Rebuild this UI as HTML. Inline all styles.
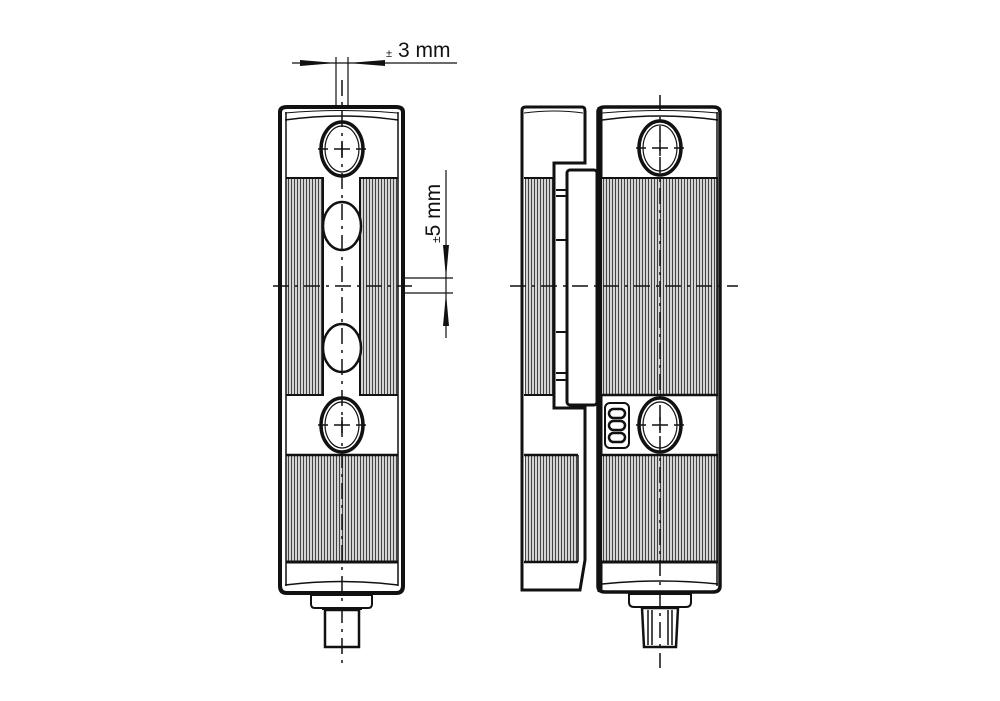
<!DOCTYPE html>
<html><head><style>html,body{margin:0;padding:0;background:#fff}svg{display:block}</style></head>
<body>
<svg width="1000" height="701" viewBox="0 0 1000 701" xmlns="http://www.w3.org/2000/svg" font-family="Liberation Sans, sans-serif">
<defs>
<pattern id="h" width="3" height="10" patternUnits="userSpaceOnUse">
<rect width="3" height="10" fill="#d4d4d4"/><rect width="1" height="10" fill="#444"/>
</pattern>
</defs>
<g stroke="#111" fill="none" stroke-width="2">
<rect x="287" y="178" width="36" height="217" fill="url(#h)" stroke="none"/>
<rect x="360" y="178" width="38" height="217" fill="url(#h)" stroke="none"/>
<rect x="287" y="455" width="111" height="107" fill="url(#h)" stroke="none"/>
<path d="M280 112 Q280 107 287 107 L396 107 Q403 107 403 112 L403 586 Q403 593 396 593 L287 593 Q280 593 280 586 Z" stroke-width="4"/>
<path d="M285 120 Q342 112 398 120" stroke-width="1.5"/>
<path d="M285 113 Q342 108 398 113" stroke-width="1"/>
<line x1="286" y1="112" x2="286" y2="586" stroke-width="1.5"/>
<line x1="398" y1="112" x2="398" y2="586" stroke-width="1.5"/>
<path d="M286 178 H323 V395 H286 M398 178 H360 V395 H398" stroke-width="2"/>
<line x1="286" y1="455" x2="398" y2="455" stroke-width="2.5"/>
<line x1="286" y1="562" x2="398" y2="562" stroke-width="3"/>
<path d="M285 585 Q342 578 398 585" stroke-width="1.5"/>
<ellipse cx="342" cy="149" rx="21" ry="27" stroke-width="3.5" fill="#fff"/><ellipse cx="342" cy="149" rx="17" ry="23" stroke-width="1.2"/>
<ellipse cx="342" cy="226" rx="19" ry="24" stroke-width="2.5" fill="#fff"/>
<ellipse cx="342" cy="348" rx="19" ry="24" stroke-width="2.5" fill="#fff"/>
<ellipse cx="342" cy="425" rx="21" ry="27" stroke-width="3.5" fill="#fff"/><ellipse cx="342" cy="425" rx="17" ry="23" stroke-width="1.2"/>
<path d="M311 595 V604 Q311 608 315 608 H368 Q372 608 372 604 V595 Z" stroke-width="2"/>
<path d="M325 610 H359 V647 H325 Z" stroke-width="2.5"/>
<path d="M322 609 H362" stroke-width="2"/>
<path d="M318 149 H328 M334 149 H350 M356 149 H366 M342 141 V157 M318 425 H328 M334 425 H350 M356 425 H366 M342 417 V433" stroke-width="1.5"/>
<line x1="342" y1="80" x2="342" y2="665" stroke-width="1.5" stroke-dasharray="16,6,3,6"/>
<line x1="273" y1="286" x2="412" y2="286" stroke-width="1.5" stroke-dasharray="16,6,3,6"/>
<line x1="336" y1="57" x2="336" y2="108" stroke-width="1.2"/>
<line x1="348" y1="57" x2="348" y2="108" stroke-width="1.2"/>
<line x1="292" y1="63" x2="457" y2="63" stroke-width="1.2"/>
<path d="M300 60 L336 63 L300 66 Z M385 60 L348 63 L385 66 Z" fill="#111" stroke="none"/>
<line x1="446" y1="170" x2="446" y2="338" stroke-width="1.2"/>
<line x1="404" y1="278" x2="453" y2="278" stroke-width="1.2"/>
<line x1="404" y1="293" x2="453" y2="293" stroke-width="1.2"/>
<path d="M443 245 L446 278 L449 245 Z M443 326 L446 293 L449 326 Z" fill="#111" stroke="none"/>
<rect x="525" y="178" width="28" height="217" fill="url(#h)" stroke="none"/>
<rect x="525" y="455" width="53" height="107" fill="url(#h)" stroke="none"/>
<path d="M522 110 Q522 107 526 107 L582 107 Q585 107 585 111 L585 163 L554 163 L554 408 L585 408 L585 560 L580 590 L522 590 Z" stroke-width="3"/>
<path d="M524 113 Q555 109 583 113" stroke-width="1"/>
<line x1="524" y1="178" x2="553" y2="178" stroke-width="2"/>
<line x1="524" y1="395" x2="553" y2="395" stroke-width="2"/>
<line x1="524" y1="455" x2="578" y2="455" stroke-width="2.5"/>
<line x1="524" y1="562" x2="578" y2="562" stroke-width="2.5"/>
<line x1="578" y1="455" x2="578" y2="562" stroke-width="1.5"/>
<path d="M556 190 H567 M556 196 H567 M556 240 H567 M556 332 H567 M556 373 H567 M556 380 H567"/>
<rect x="567" y="170" width="30" height="235" rx="3" fill="#fff" stroke-width="3"/>
<line x1="600" y1="107" x2="600" y2="592" stroke-width="5"/>
<rect x="602" y="178" width="116" height="217" fill="url(#h)" stroke="none"/>
<rect x="602" y="455" width="116" height="107" fill="url(#h)" stroke="none"/>
<path d="M598 112 Q598 107 605 107 L713 107 Q720 107 720 112 L720 586 Q720 592 713 592 L605 592 Q598 592 598 586 Z" stroke-width="3.5"/>
<path d="M602 120 Q660 112 718 120" stroke-width="1.5"/><path d="M602 113 Q660 108 718 113" stroke-width="1"/>
<line x1="717" y1="112" x2="717" y2="586" stroke-width="1.5"/>
<line x1="602" y1="178" x2="718" y2="178" stroke-width="2"/>
<line x1="602" y1="395" x2="718" y2="395" stroke-width="2.5"/>
<line x1="602" y1="455" x2="718" y2="455" stroke-width="2.5"/>
<line x1="602" y1="562" x2="718" y2="562" stroke-width="3"/>
<path d="M602 584 Q660 578 718 584" stroke-width="1.5"/>
<ellipse cx="660" cy="148" rx="21" ry="27" stroke-width="3.5" fill="#fff"/><ellipse cx="660" cy="148" rx="17" ry="23" stroke-width="1.2"/>
<ellipse cx="660" cy="425" rx="21" ry="27" stroke-width="3.5" fill="#fff"/><ellipse cx="660" cy="425" rx="17" ry="23" stroke-width="1.2"/>
<rect x="605" y="403" width="24" height="45" rx="5" stroke-width="2"/>
<rect x="609" y="409" width="16" height="9" rx="4.5" stroke-width="2.5"/>
<rect x="609" y="421" width="16" height="9" rx="4.5" stroke-width="2.5"/>
<rect x="609" y="433" width="16" height="9" rx="4.5" stroke-width="2.5"/>
<path d="M636 148 H646 M652 148 H668 M674 148 H684 M660 140 V156 M636 425 H646 M652 425 H668 M674 425 H684 M660 417 V433" stroke-width="1.5"/>
<path d="M629 594 V602 Q629 607 634 607 H686 Q691 607 691 602 V594 Z" stroke-width="2"/>
<path d="M642 608 H678 L676 647 H644 Z" stroke-width="2.5"/>
<path d="M648 610 V645 M652 610 V645 M668 610 V645 M672 610 V645" stroke-width="1.5"/>
<line x1="660" y1="95" x2="660" y2="668" stroke-width="1.5" stroke-dasharray="16,6,3,6"/>
<line x1="510" y1="286" x2="738" y2="286" stroke-width="1.5" stroke-dasharray="16,6,3,6"/>
</g>
<text x="386" y="57" font-size="11" fill="#111">±</text>
<text x="398" y="57" font-size="21" fill="#111">3 mm</text>
<text transform="translate(440,243) rotate(-90)" font-size="21" fill="#111"><tspan font-size="12">±</tspan>5 mm</text>
</svg>
</body></html>
